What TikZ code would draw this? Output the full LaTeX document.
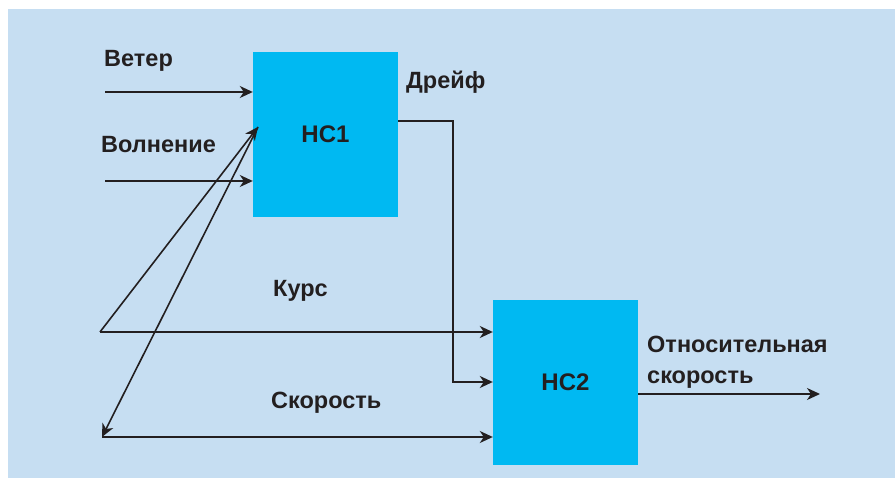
\documentclass[tikz,border=0pt]{standalone}
\usepackage{fontspec}
\setmainfont{Liberation Sans}
\usetikzlibrary{arrows.meta,positioning}
\definecolor{sky}{RGB}{198,222,242}
\definecolor{cyanbox}{RGB}{0,185,242}
\definecolor{ink}{RGB}{35,31,32}

\begin{document}
\begin{tikzpicture}[x=1pt,y=-1pt,
  net/.style={fill=cyanbox,minimum width=145pt,minimum height=165pt,inner sep=0pt,font=\fontsize{24}{28}\selectfont\bfseries,text=ink},
  lbl/.style={font=\fontsize{23.5}{31}\selectfont\bfseries,text=ink,inner sep=0pt,anchor=base west},
  arr/.style={-{Stealth[length=13pt,width=12pt,inset=4pt]},line width=1.6pt,draw=ink}]
        \useasboundingbox (0,0) rectangle (895,478);
        \fill[white] (0,0) rectangle (895,478);
        \fill[sky] (8,9) rectangle (895,478);
        % the two networks
        \node[net] (nc1) at (325.5,134.5) {НС1};
        \node[net] (nc2) at (565.5,382.5) {НС2};
        % input labels
        \node[lbl] (veter) at (104,67) {Ветер};
        \node[lbl] (volnenie) at (101,153) {Волнение};
        \node[lbl] (dreif) at (406,89) {Дрейф};
        \node[lbl] (kurs) at (273,297) {Курс};
        \node[lbl] (skor) at (271,409) {Скорость};
        \node[lbl,anchor=north west,align=left] (otn) at (647,336) {Относительная\\скорость};
        % free ends
        \coordinate (w0) at (105,92);
        \coordinate (v0) at (105,181);
        \coordinate (k0) at (100,332);
        \coordinate (s0) at (102,437);
        \coordinate (hit) at (258,127);
        \coordinate (dr) at (453,121);
        \coordinate (dr2) at (453,382);
        \coordinate (out) at (820,394);
        % connectors
        \draw[arr] (w0) -- (nc1.west |- w0);
        \draw[arr] (v0) -- (nc1.west |- v0);
        \draw[arr] (k0) -- (hit);
        \draw[arr] (hit) -- (s0);
        \draw[arr] (k0) -- (nc2.west |- k0);
        \draw[arr] (s0) -- (nc2.west |- s0);
        \draw[arr] (nc1.east |- dr) -- (dr) |- (nc2.west |- dr2);
        \draw[arr] (nc2.east |- out) -- (out);
      \end{tikzpicture}
\end{document}
